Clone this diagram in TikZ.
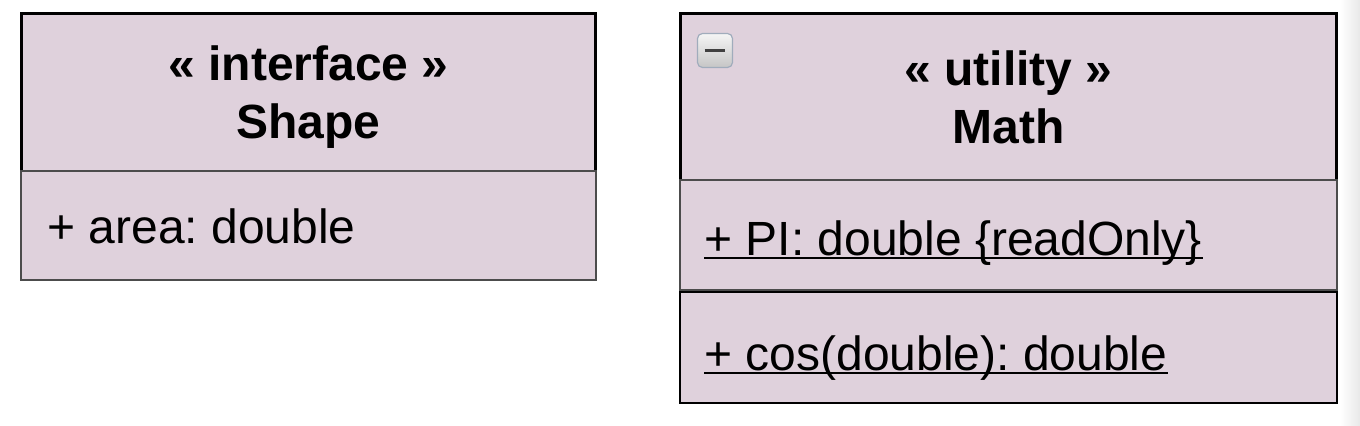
\documentclass[tikz,border=0pt]{standalone}
\usepackage{fontspec}
\setmainfont{Liberation Sans}
\usepackage{tikz}
\usetikzlibrary{positioning, calc}
\usepackage{xcolor}
\definecolor{umlfill}{RGB}{223,209,220}
\definecolor{togglerim}{RGB}{160,172,188}
\frenchspacing

\begin{document}
\begin{tikzpicture}[
  x=0.5pt, y=-0.5pt,
  classhead/.style={rectangle, draw=black, fill=umlfill, line width=1.5pt,
                    outer sep=0pt, align=center, text depth=0pt,
                    font=\fontsize{24}{29}\selectfont\bfseries},
  compart/.style={rectangle, draw=black!70, fill=umlfill, line width=1pt,
                  outer sep=0pt},
  member/.style={inner sep=0pt, anchor=base west,
                 font=\fontsize{24}{29}\selectfont},
  uline/.style={line width=0.75pt, draw=black},
  togglebox/.style={rectangle, rounded corners=2.5pt, draw=togglerim,
                    line width=0.6pt, top color=gray!8, bottom color=gray!45,
                    minimum width=17.5pt, minimum height=17pt, inner sep=0pt}
]
\useasboundingbox (0,0) rectangle (1360,426);
\fill[left color=white, right color=black!9] (1340,0) rectangle (1360,426);

% ==================== INTERFACE SHAPE ====================
\node[classhead, minimum width=287pt, minimum height=79pt] (shapehead)
  at (308.5,92.5) {« interface »\\Shape};
\node[compart, minimum width=287.5pt, minimum height=54.5pt,
      below=0pt of shapehead] (shapeattr) {};

\node[member] (areatxt) at ($(shapeattr.west)+(13pt,-8.75pt)$) {+ area: double};

% ==================== UTILITY MATH ====================
\node[classhead, minimum width=328pt, minimum height=83.5pt] (mathhead)
  at (1008.5,97) {« utility »\\Math};
\node[compart, minimum width=328.5pt, minimum height=55pt,
      below=0pt of mathhead] (mathattr) {};
\node[compart, draw=black, minimum width=328.5pt, minimum height=55.5pt,
      below=1pt of mathattr] (mathops) {};

\node[togglebox] (toggle) at (715,50.5) {};
\draw[line width=1.8pt, black!75] ($(toggle.center)+(-5.2pt,0)$) -- ($(toggle.center)+(5.2pt,0)$);

\node[member] (pitxt) at ($(mathattr.west)+(12pt,-10pt)$) {+ PI: double \{readOnly\}};
\node[member] (costxt) at ($(mathops.west)+(12pt,-11.25pt)$) {+ cos(double): double};

% ==================== UNDERLINES ====================
\draw[uline] ($(pitxt.base west)+(0,-1.3pt)$) -- ($(pitxt.base east)+(0,-1.3pt)$);
\draw[uline] ($(costxt.base west)+(0,-1.3pt)$) -- ($(costxt.base east)+(0,-1.3pt)$);

\end{tikzpicture}
\end{document}
